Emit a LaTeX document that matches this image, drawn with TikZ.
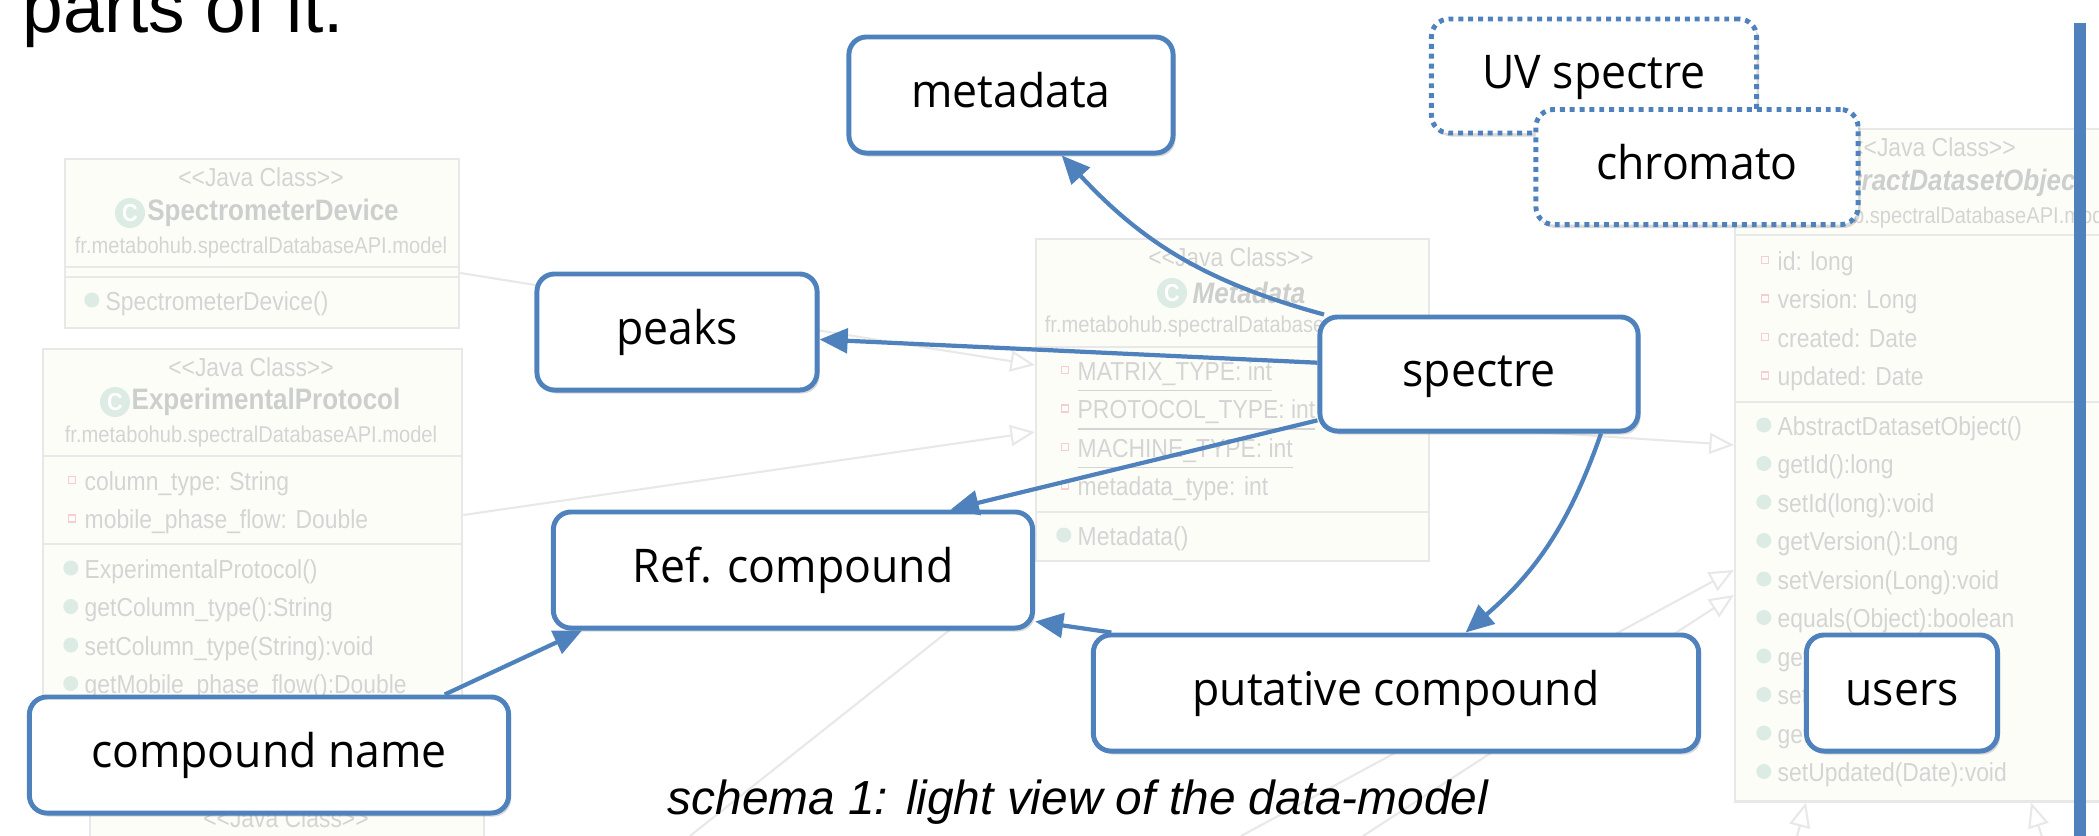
\documentclass[tikz,border=0pt]{standalone}
\usepackage{fontspec}
\usetikzlibrary{arrows.meta,shadows}
\newfontfamily\boxfont{Open Sans}[FakeStretch=0.96]
\newfontfamily\umlfont{Liberation Sans}[FakeStretch=0.88]
\newfontfamily\capfont{Liberation Sans}
\definecolor{boxblue}{RGB}{79,129,189}
\definecolor{umlfill}{RGB}{253,253,248}
\definecolor{umlline}{RGB}{232,232,232}
\definecolor{umltxt}{RGB}{212,212,212}
\definecolor{umlttl}{RGB}{204,207,205}
\definecolor{umlgreen}{RGB}{220,235,228}
\definecolor{umlpink}{RGB}{246,205,212}
\newcommand\javacls{<\kern0pt<Java Class>\kern0pt>}

\begin{document}
\begin{tikzpicture}[x=0.01cm, y=0.01cm,
    box/.style={draw=boxblue, line width=1.4pt, rounded corners=5pt, fill=white,
                inner sep=0pt, text height=0.35cm, text depth=0.11cm,
                font=\boxfont\fontsize{13.2}{15}\selectfont,
                drop shadow={shadow xshift=0.7pt, shadow yshift=-1pt, opacity=0.3}},
    dotbox/.style={box, dash pattern=on 1.4pt off 1.4pt},
    arr/.style={draw=boxblue, line width=1.2pt, -{Triangle[length=8pt,width=7pt]}},
    umlbox/.style={draw=umlline, fill=umlfill, line width=0.6pt, anchor=north west,
                   inner sep=0pt},
    umlsep/.style={draw=umlline, line width=0.6pt},
    umlhead/.style={text=umltxt, inner sep=0pt, font=\umlfont\fontsize{7.4}{8}\selectfont},
    umlname/.style={text=umlttl, inner sep=0pt,
                    font=\umlfont\bfseries\fontsize{8.4}{9}\selectfont},
    umlabs/.style={umlname, font=\umlfont\bfseries\itshape\fontsize{8.4}{9}\selectfont},
    umlpkg/.style={text=umltxt, inner sep=0pt, font=\umlfont\fontsize{6.5}{7}\selectfont},
    umlrow/.style={anchor=west, text=umltxt, inner sep=0pt, text height=1.38ex,
                   text depth=0pt, font=\umlfont\fontsize{7.4}{8}\selectfont},
    meth/.style={umlrow, label={[circle, fill=umlgreen, inner sep=0pt,
                 minimum size=0.15cm, label distance=0.05cm]left:{}}},
    attr/.style={umlrow, label={[draw=umlpink, inner sep=0pt, minimum size=0.07cm,
                 label distance=0.08cm]left:{}}},
    clsicon/.style={circle, fill=umlgreen, text=white, inner sep=0pt, minimum size=0.3cm,
                    font=\umlfont\bfseries\fontsize{7}{7}\selectfont},
    gen/.style={draw=umlline, line width=0.6pt, -{Triangle[open,length=7pt,width=6pt]}}]
  \useasboundingbox (0,0) rectangle (2099,-836);
  \clip (0,0) rectangle (2099,-836);
  %-------------------------------------------------- background: the faded class diagram
  % SpectrometerDevice
  \node[umlbox, minimum width=3.94cm, minimum height=1.69cm] (spd) at (64,-158) {};
  \draw[umlsep] (spd.west |- 0,-267) -- (spd.east |- 0,-267)
                (spd.west |- 0,-277) -- (spd.east |- 0,-277);
  \node[umlhead] (spdst) at (261,-177) {\javacls};
  \node[umlname] (spdnm) at (273,-213) {SpectrometerDevice};
  \node[clsicon] (spdic) at (130,-213) {C};
  \node[umlpkg] (spdpk) at (261,-248) {fr.metabohub.spectralDatabaseAPI.model};
  \node[meth] (spdm1) at (105,-300) {SpectrometerDevice()};
  % ExperimentalProtocol
  \node[umlbox, minimum width=4.19cm, minimum height=4.42cm] (exp) at (42,-348) {};
  \draw[umlsep] (exp.west |- 0,-456) -- (exp.east |- 0,-456)
                (exp.west |- 0,-544) -- (exp.east |- 0,-544);
  \node[umlhead] (expst) at (251,-367) {\javacls};
  \node[umlname] (expnm) at (266,-402) {ExperimentalProtocol};
  \node[clsicon] (expic) at (115,-402) {C};
  \node[umlpkg] (exppk) at (251,-437) {fr.metabohub.spectralDatabaseAPI.model};
  \foreach \a [count=\i] in {column\_type: String, mobile\_phase\_flow: Double}{
    \node[attr] (expa\i) at (84,{-480-38.5*(\i-1)}) {\a};
  }
  \foreach \m [count=\i] in {ExperimentalProtocol(), getColumn\_type():String,
      setColumn\_type(String):void, getMobile\_phase\_flow():Double,
      setMobile\_phase\_flow(Double):void}{
    \node[meth] (expm\i) at (84,{-568-38.5*(\i-1)}) {\m};
  }
  % Metadata
  \node[umlbox, minimum width=3.93cm, minimum height=3.22cm] (meta) at (1035,-238) {};
  \draw[umlsep] (meta.west |- 0,-347) -- (meta.east |- 0,-347)
                (meta.west |- 0,-512) -- (meta.east |- 0,-512);
  \node[umlhead] (metast) at (1231,-257) {\javacls};
  \node[umlabs] (metanm) at (1249,-293) {Metadata};
  \node[clsicon] (metaic) at (1172,-293) {C};
  \node[umlpkg] (metapk) at (1231,-327) {fr.metabohub.spectralDatabaseAPI.model};
  \foreach \a [count=\i] in {\underline{MATRIX\_TYPE: int}, \underline{PROTOCOL\_TYPE: int},
      \underline{MACHINE\_TYPE: int}, metadata\_type: int}{
    \node[attr] (metaa\i) at (1077,{-370-38.5*(\i-1)}) {\a};
  }
  \node[meth] (metam1) at (1077,-535) {Metadata()};
  % AbstractDatasetObject
  \node[umlbox, minimum width=3.98cm, minimum height=6.72cm] (ado) at (1734,-128) {};
  \draw[umlsep] (ado.west |- 0,-235) -- (ado.east |- 0,-235)
                (ado.west |- 0,-402) -- (ado.east |- 0,-402);
  \node[umlhead] (adost) at (1933,-147) {\javacls};
  \node[umlabs] (adonm) at (1944,-183) {AbstractDatasetObject};
  \node[clsicon] (adoic) at (1786,-183) {C};
  \node[umlpkg] (adopk) at (1933,-218) {fr.metabohub.spectralDatabaseAPI.model};
  \foreach \a [count=\i] in {id: long, version: Long, created: Date, updated: Date}{
    \node[attr] (adoa\i) at (1777,{-260-38.5*(\i-1)}) {\a};
  }
  \foreach \m [count=\i] in {AbstractDatasetObject(), getId():long, setId(long):void,
      getVersion():Long, setVersion(Long):void, equals(Object):boolean,
      getCreated():Date, setCreated(Date):void, getUpdated():Date,
      setUpdated(Date):void}{
    \node[meth] (adom\i) at (1777,{-425-38.5*(\i-1)}) {\m};
  }
  % the class under "compound name"
  \node[umlbox, minimum width=3.94cm, minimum height=1.5cm] (low) at (89,-800) {};
  \node[umlhead] (lowst) at (286,-818) {\javacls};
  % inheritance links
  \coordinate (g1) at (1241,-836);
  \coordinate (g2) at (1363,-836);
  \coordinate (g3) at (690,-836);
  \coordinate (g4) at (1796,-840);
  \coordinate (g5) at (2043,-840);
  \draw[gen] (spd.east |- 0,-273) -- (meta.west |- 0,-365);
  \draw[gen] (exp.east |- 0,-515) -- (meta.west |- 0,-432);
  \draw[gen] (meta.east |- 0,-425) -- (ado.west |- 0,-445);
  \draw[gen] (g1) -- (ado.west |- 0,-570);
  \draw[gen] (g2) -- (ado.west |- 0,-595);
  \draw[gen] (g3) -- (meta.south west);
  \draw[gen] (g4) -- (ado.south -| 1806,0);
  \draw[gen] (g5) -- (ado.south -| 2031,0);
  %-------------------------------------------------- the light data-model
  \node[box, minimum width=3.24cm, minimum height=1.16cm] (metadata) at (1011,-95) {metadata};
  \node[box, minimum width=2.80cm, minimum height=1.16cm] (peaks) at (677,-332) {peaks};
  \node[box, minimum width=3.18cm, minimum height=1.14cm] (spectre) at (1479,-374) {spectre};
  \node[box, minimum width=4.79cm, minimum height=1.16cm] (ref) at (793,-570) {Ref. compound};
  \node[box, minimum width=6.05cm, minimum height=1.16cm] (putative) at (1396,-693)
    {putative compound};
  \node[box, minimum width=4.79cm, minimum height=1.16cm] (cname) at (269,-755)
    {compound name};
  \node[box, minimum width=1.91cm, minimum height=1.16cm] (users) at (1902,-693) {users};
  \node[dotbox, minimum width=3.25cm, minimum height=1.14cm] (uv) at (1594,-76) {UV spectre};
  \node[dotbox, minimum width=3.22cm, minimum height=1.15cm] (chromato) at (1697,-167)
    {chromato};
  \draw[arr] (spectre.159) to[bend left=16] (metadata.-50);
  \draw[arr] (spectre.176) -- (peaks.-3);
  \draw[arr] (spectre.196) -- (ref.21);
  \draw[arr] (spectre.-26) to[bend left=15] (putative.41);
  \draw[arr] (putative.168.5) -- (ref.-12);
  \draw[arr] (cname.19.6) -- (ref.196.5);
  %-------------------------------------------------- slide text and rule
  \node[anchor=base west, inner sep=0pt, font=\capfont\fontsize{20.8}{24}\selectfont]
    (title) at (22,-32) {parts of it.};
  \node[anchor=base west, inner sep=0pt, font=\capfont\itshape\fontsize{13.6}{16}\selectfont]
    (caption) at (667,-814) {schema 1: light view of the data-model};
  \fill[boxblue] (2074,-23) rectangle (2086,-840);
\end{tikzpicture}
\end{document}
